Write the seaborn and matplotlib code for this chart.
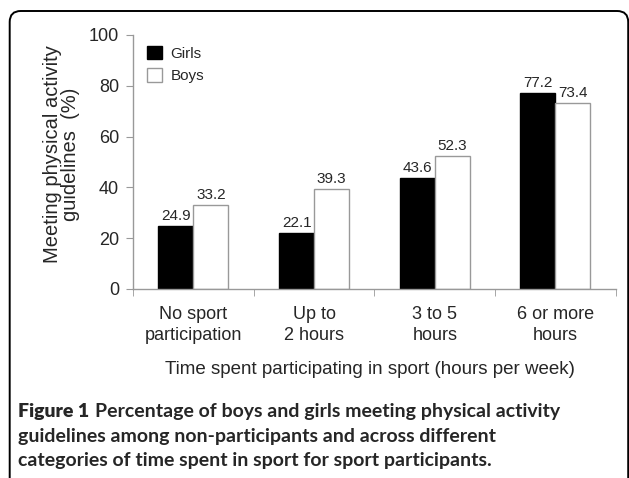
import pandas as pd
import matplotlib.pyplot as plt
import seaborn as sns
from matplotlib.patches import FancyBboxPatch
from matplotlib.ticker import FixedLocator

## datos
categories = ["No sport\nparticipation", "Up to\n2 hours", "3 to 5\nhours", "6 or more\nhours"]
girls = [24.9, 22.1, 43.6, 77.2]
boys = [33.2, 39.3, 52.3, 73.4]
yticks = [0, 20, 40, 60, 80, 100]

df = pd.DataFrame({
    'category': categories * 2,
    'value': girls + boys,
    'sex': ['Girls'] * len(girls) + ['Boys'] * len(boys),
})

sns.set_style('white')
plt.rcParams['font.family'] = ['Liberation Sans', 'DejaVu Sans']

fig = plt.figure(figsize=(6.29, 4.78), dpi=100)
ax = fig.add_axes([0.2115, 0.3954, 0.7675, 0.5314])

sns.barplot(data=df, x='category', y='value', hue='sex',
            palette={'Girls': 'black', 'Boys': 'white'},
            width=0.58, gap=0, ax=ax, legend=True)

grey = '#999999'
for cont, ec in zip(ax.containers, ['black', grey]):
    for bar in cont:
        bar.set_edgecolor(ec)
        bar.set_linewidth(1.0)
    ax.bar_label(cont, fmt='%.1f', padding=2, fontsize=11)

## ejes
ax.set_ylim(0, 100)
ax.set_xlim(-0.5, 3.5)
ax.set_yticks(yticks)
ax.tick_params(axis='y', labelsize=13, length=5, color=grey, direction='out', left=True, pad=5)
ax.tick_params(axis='x', which='major', length=0, labelsize=13, pad=12)
for lab in ax.get_xticklabels():
    lab.set_linespacing(1.35)
ax.xaxis.set_minor_locator(FixedLocator([-0.5, 0.5, 1.5, 2.5, 3.5]))
ax.tick_params(axis='x', which='minor', length=5, color=grey, direction='out', bottom=True)
for s in ['top', 'right']:
    ax.spines[s].set_visible(False)
for s in ['left', 'bottom']:
    ax.spines[s].set_color(grey)
    ax.spines[s].set_linewidth(1.0)

ax.set_xlabel('Time spent participating in sport (hours per week)', fontsize=13.5)
ax.xaxis.set_label_coords(0.49, -0.285)
ax.set_ylabel('Meeting physical activity\nguidelines  (%)', fontsize=14.5, linespacing=0.95)
ax.yaxis.set_label_coords(-0.11, 0.53)

## leyenda
handles, labels = ax.get_legend_handles_labels()
for h, ec in zip(handles, ['black', grey]):
    h.set_edgecolor(ec)
ax.legend(handles, labels, loc='upper left', bbox_to_anchor=(0.0, 1.012), frameon=False,
          fontsize=11, handlelength=1.0, handleheight=1.0, handletextpad=0.55, labelspacing=0.5)

## marco redondeado (en pulgadas para que la esquina sea circular)
frame = FancyBboxPatch((0.097, -1.0), 6.185, 5.67, boxstyle='round,pad=0,rounding_size=0.11',
                       transform=fig.dpi_scale_trans, fill=False, edgecolor='black',
                       linewidth=1.4, clip_on=False)
fig.patches.append(frame)

## pie de figura
cap_font = ['Lato', 'DejaVu Sans']
cap_size = 14
x0 = 0.029
t1 = fig.text(x0, 0.1276, 'Figure 1', fontsize=cap_size, fontweight='heavy', family=cap_font, va='baseline')
fig.canvas.draw()
bb = t1.get_window_extent().transformed(fig.transFigure.inverted())
fig.text(bb.x1 + 0.009, 0.1276, 'Percentage of boys and girls meeting physical activity',
         fontsize=cap_size, fontweight='bold', family=cap_font, va='baseline')
fig.text(x0, 0.0753, 'guidelines among non-participants and across different',
         fontsize=cap_size, fontweight='bold', family=cap_font, va='baseline')
fig.text(x0, 0.0251, 'categories of time spent in sport for sport participants.',
         fontsize=cap_size, fontweight='bold', family=cap_font, va='baseline')

fig.savefig('out.png', dpi=100)
